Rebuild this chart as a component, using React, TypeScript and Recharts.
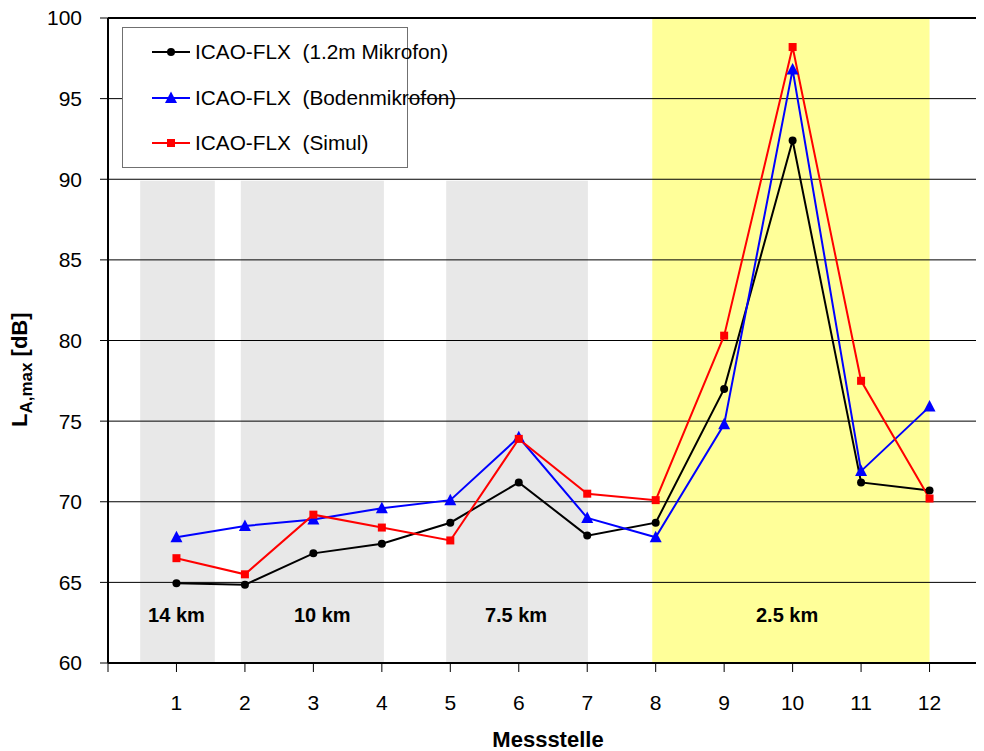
import React from 'react';
import { LineChart, Line, XAxis, YAxis, ReferenceArea, ReferenceLine, ReferenceDot } from 'recharts';

const FONT = '"Liberation Sans", Arial, sans-serif';

const stations = [1, 2, 3, 4, 5, 6, 7, 8, 9, 10, 11, 12];
const mikrofon12 = [64.95, 64.85, 66.8, 67.4, 68.7, 71.2, 67.9, 68.7, 77.0, 92.4, 71.2, 70.7];
const bodenmikrofon = [67.8, 68.5, 68.9, 69.6, 70.1, 74.0, 69.0, 67.8, 74.8, 96.8, 71.9, 75.9];
const simul = [66.5, 65.5, 69.2, 68.4, 67.6, 73.9, 70.5, 70.1, 80.3, 98.2, 77.5, 70.2];
const seriesNames = ['ICAO-FLX  (1.2m Mikrofon)', 'ICAO-FLX  (Bodenmikrofon)', 'ICAO-FLX  (Simul)'];
const seriesColors = ['#000000', '#0000FF', '#FF0000'];

const xTicks = [0, 1, 2, 3, 4, 5, 6, 7, 8, 9, 10, 11, 12];
const yTicks = [60, 65, 70, 75, 80, 85, 90, 95, 100];
const gridValues = [65, 70, 75, 80, 85, 90, 95];

const bandStart = [0.47, 1.94, 4.94, 7.95];
const bandEnd = [1.56, 4.03, 7.01, 12.0];
const bandTop = [89.9, 89.9, 89.9, 100];
const bandColors = ['#E8E8E8', '#E8E8E8', '#E8E8E8', '#FFFF99'];
const bandLabels = ['14 km', '10 km', '7.5 km', '2.5 km'];
const bandLabelX = [1.0, 3.13, 5.96, 9.92];
const bandLabelY = 63.0;

const data = stations.map((s, i) => ({
  station: s,
  m: mikrofon12[i],
  b: bodenmikrofon[i],
  s: simul[i],
}));

const CircleDot = (p: any) =>
  p.cx == null ? null : <circle key={`c${p.index}`} cx={p.cx} cy={p.cy} r={4} fill="#000000" />;
const TriangleDot = (p: any) =>
  p.cx == null ? null : (
    <polygon
      key={`t${p.index}`}
      points={`${p.cx},${p.cy - 6.5} ${p.cx + 6},${p.cy + 5} ${p.cx - 6},${p.cy + 5}`}
      fill="#0000FF"
    />
  );
const SquareDot = (p: any) =>
  p.cx == null ? null : (
    <rect key={`s${p.index}`} x={p.cx - 4} y={p.cy - 4} width={8} height={8} fill="#FF0000" />
  );

const YTitle = () => (
  <text
    x={19}
    y={419}
    transform="rotate(-90, 19, 419)"
    fontFamily={FONT}
    fontWeight="bold"
    fontSize={22}
    fill="#000"
    textAnchor="start"
  >
    <tspan>L</tspan>
    <tspan fontSize={17} dy={5}>A,max</tspan>
    <tspan dy={-5}>{'\u00A0[dB]'}</tspan>
  </text>
);

const XTitle = () => (
  <text x={540} y={739} fontFamily={FONT} fontWeight="bold" fontSize={22} fill="#000" textAnchor="middle">
    Messstelle
  </text>
);

const LegendIcon = ({ idx }: { idx: number }) => {
  const c = seriesColors[idx];
  return (
    <svg width={40} height={14} style={{ display: 'block' }}>
      <line x1={1} y1={7} x2={39} y2={7} stroke={c} strokeWidth={2} />
      {idx === 0 && <circle cx={20} cy={7} r={4} fill={c} />}
      {idx === 1 && <polygon points="20,0.5 26,12 14,12" fill={c} />}
      {idx === 2 && <rect x={16} y={3} width={8} height={8} fill={c} />}
    </svg>
  );
};

const LegendBox = () => (
  <div
    style={{
      position: 'absolute',
      left: 114,
      top: 19,
      width: 286,
      height: 141,
      boxSizing: 'border-box',
      border: '1.5px solid #707070',
      background: '#FFFFFF',
      fontFamily: FONT,
      fontSize: 20.8,
      color: '#000',
    }}
  >
    {seriesNames.map((n, i) => (
      <div
        key={n}
        style={{
          position: 'absolute',
          left: 28,
          top: 12 + i * 45.5,
          height: 24,
          display: 'flex',
          alignItems: 'center',
          whiteSpace: 'pre',
        }}
      >
        <LegendIcon idx={i} />
        <span style={{ marginLeft: 4 }}>{n}</span>
      </div>
    ))}
  </div>
);

export default function App() {
  return (
    <div style={{ position: 'relative', width: 976, height: 743, overflow: 'hidden', background: '#fff' }}>
      <LineChart width={1000} height={743} data={data} margin={{ top: 10, right: 10, left: 0, bottom: 0 }}>
        {bandStart.map((x1, i) => (
          <ReferenceArea
            key={`band${i}`}
            x1={x1}
            x2={bandEnd[i]}
            y1={60}
            y2={bandTop[i]}
            fill={bandColors[i]}
            fillOpacity={1}
            stroke="none"
            ifOverflow="visible"
          />
        ))}
        {gridValues.map((v) => (
          <ReferenceLine key={`g${v}`} y={v} stroke="#000" strokeWidth={1} />
        ))}
        <ReferenceLine y={100} stroke="#000" strokeWidth={2} />
        {bandLabels.map((t, i) => (
          <ReferenceDot
            key={`lbl${i}`}
            x={bandLabelX[i]}
            y={bandLabelY}
            r={0}
            fill="none"
            stroke="none"
            label={{ value: t, position: 'center', fill: '#000', fontSize: 20, fontWeight: 'bold', fontFamily: FONT }}
          />
        ))}
        <XAxis
          type="number"
          dataKey="station"
          domain={[0, 13]}
          ticks={xTicks}
          interval={0}
          allowDataOverflow
          height={88}
          tickFormatter={(v: number) => (v === 0 ? '' : String(v))}
          tick={{ fill: '#000', fontSize: 21, fontFamily: FONT }}
          tickSize={9}
          tickMargin={23}
          axisLine={{ stroke: '#000', strokeWidth: 2 }}
          tickLine={{ stroke: '#000', strokeWidth: 1 }}
          label={<XTitle />}
        />
        <YAxis
          type="number"
          domain={[60, 100]}
          ticks={yTicks}
          interval={0}
          allowDataOverflow
          width={100}
          tick={{ fill: '#000', fontSize: 21, fontFamily: FONT }}
          tickSize={8}
          tickMargin={18}
          axisLine={{ stroke: '#000', strokeWidth: 2 }}
          tickLine={{ stroke: '#000', strokeWidth: 1 }}
          label={<YTitle />}
        />
        <Line
          dataKey="m"
          name={seriesNames[0]}
          stroke="#000000"
          strokeWidth={2}
          dot={CircleDot}
          activeDot={false}
          isAnimationActive={false}
        />
        <Line
          dataKey="b"
          name={seriesNames[1]}
          stroke="#0000FF"
          strokeWidth={2}
          dot={TriangleDot}
          activeDot={false}
          isAnimationActive={false}
        />
        <Line
          dataKey="s"
          name={seriesNames[2]}
          stroke="#FF0000"
          strokeWidth={2}
          dot={SquareDot}
          activeDot={false}
          isAnimationActive={false}
        />
      </LineChart>
      <LegendBox />
    </div>
  );
}
